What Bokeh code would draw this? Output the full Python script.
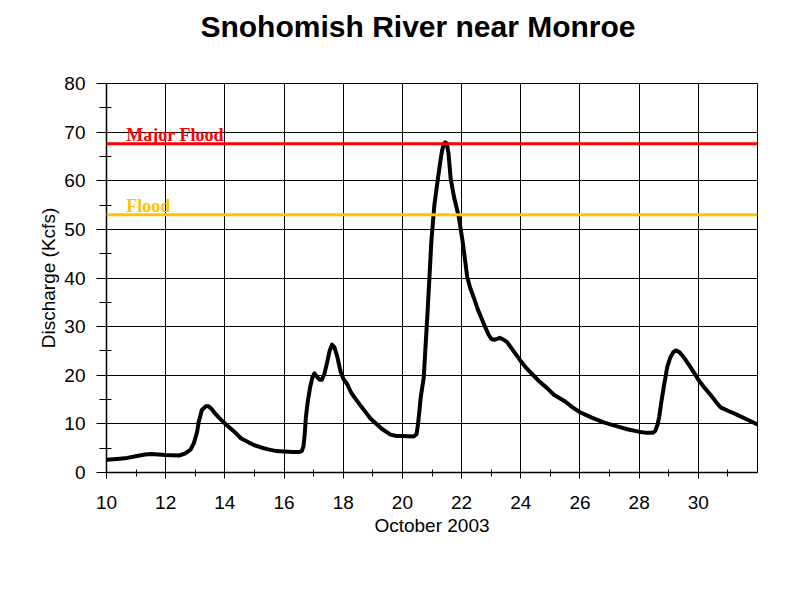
from bokeh.plotting import figure
from bokeh.models import Range1d, FixedTicker, Label, Span
from bokeh.embed import file_html
from bokeh.resources import INLINE

# Discharge (Kcfs), by fractional day of October 2003
days = [10.0, 10.35, 10.7, 11.03, 11.3, 11.5, 11.75, 12.0, 12.45, 12.65, 12.84, 12.95,
        13.06, 13.12, 13.22, 13.35, 13.45, 13.55, 13.63, 13.8, 14.0, 14.3, 14.55, 14.8,
        15.0, 15.25, 15.5, 15.75, 16.0, 16.3, 16.5, 16.6, 16.66, 16.7, 16.74, 16.8,
        16.88, 16.96, 17.03, 17.12, 17.2, 17.28, 17.36, 17.45, 17.54, 17.62, 17.7, 17.8,
        17.9, 18.0, 18.13, 18.27, 18.41, 18.58, 18.92, 19.3, 19.6, 19.8, 20.0, 20.38,
        20.48, 20.53, 20.58, 20.62, 20.72, 20.85, 20.98, 21.08, 21.19, 21.27, 21.34, 21.39,
        21.45, 21.5, 21.56, 21.63, 21.75, 21.9, 22.03, 22.1, 22.19, 22.3, 22.41, 22.55,
        22.75, 22.9, 23.0, 23.1, 23.2, 23.29, 23.4, 23.54, 23.75, 23.99, 24.2, 24.44,
        24.65, 24.9, 25.12, 25.5, 25.75, 26.0, 26.4, 26.8, 27.2, 27.6, 27.98, 28.2,
        28.47, 28.55, 28.62, 28.68, 28.75, 28.83, 28.95, 29.05, 29.15, 29.23, 29.35, 29.51,
        29.7, 29.85, 30.02, 30.2, 30.41, 30.6, 30.75, 31.0, 31.3, 31.65, 32.0]
flow = [2.6, 2.8, 3.0, 3.4, 3.7, 3.8, 3.7, 3.6, 3.5, 3.9, 4.7, 6.0,
        8.3, 10.5, 12.8, 13.6, 13.6, 13.1, 12.4, 11.3, 10.1, 8.5, 7.0, 6.2,
        5.6, 5.1, 4.7, 4.4, 4.3, 4.2, 4.2, 4.4, 5.5, 8.0, 11.5, 14.5,
        17.5, 19.6, 20.4, 19.6, 19.1, 19.1, 20.2, 22.5, 25.0, 26.3, 25.8, 23.8,
        21.0, 19.3, 18.2, 16.4, 15.2, 13.8, 11.1, 9.0, 7.8, 7.5, 7.5, 7.4,
        7.9, 10.1, 13.0, 15.5, 19.5, 33.0, 47.7, 55.0, 60.0, 63.5, 66.2, 67.3,
        67.9, 67.7, 65.5, 60.5, 56.5, 52.7, 47.7, 44.5, 40.2, 37.8, 36.0, 33.5,
        30.6, 28.5, 27.5, 27.3, 27.5, 27.7, 27.4, 26.8, 25.0, 23.0, 21.4, 19.9,
        18.6, 17.3, 16.0, 14.6, 13.4, 12.4, 11.3, 10.3, 9.6, 8.9, 8.4, 8.2,
        8.2, 8.6, 9.8, 11.5, 14.5, 17.5, 21.7, 23.6, 24.7, 25.1, 24.8, 23.7,
        22.0, 20.6, 18.9, 17.5, 16.0, 14.5, 13.4, 12.7, 11.9, 10.9, 9.9]

major_flood = 67.6
flood = 53.0

x_ticks = [10, 12, 14, 16, 18, 20, 22, 24, 26, 28, 30]
x_minor = [11, 13, 15, 17, 19, 21, 23, 25, 27, 29, 31]
y_ticks = [0, 10, 20, 30, 40, 50, 60, 70, 80]
y_minor = [5, 15, 25, 35, 45, 55, 65, 75]

title_text = "Snohomish River near Monroe"
x_label = "October 2003"
y_label = "Discharge (Kcfs)"

FONT = "Liberation Sans"

p = figure(width=800, height=600, output_backend="svg", toolbar_location=None,
           x_range=Range1d(10, 32), y_range=Range1d(0, 80),
           min_border_left=106, min_border_right=43, min_border_top=83,
           min_border_bottom=128)
p.background_fill_color = "white"
p.border_fill_color = "white"
p.outline_line_color = "black"
p.outline_line_width = 1
p.outline_line_alpha = 1

xt = FixedTicker(ticks=x_ticks, minor_ticks=x_minor)
yt = FixedTicker(ticks=y_ticks, minor_ticks=y_minor)
p.xaxis.ticker = xt
p.yaxis.ticker = yt
p.xgrid.ticker = xt
p.ygrid.ticker = yt
for g in (p.xgrid, p.ygrid):
    g.grid_line_color = "black"
    g.grid_line_width = 1
    g.grid_line_alpha = 1

for ax in (p.xaxis, p.yaxis):
    ax.axis_line_color = "black"
    ax.axis_line_width = 1.5
    ax.major_tick_line_color = "black"
    ax.minor_tick_line_color = "black"
    ax.major_tick_in = 0
    ax.major_label_text_font = FONT
    ax.major_label_text_font_size = "19px"
    ax.major_label_text_color = "black"
    ax.axis_label_text_font = FONT
    ax.axis_label_text_font_size = "19px"
    ax.axis_label_text_font_style = "normal"
    ax.axis_label_text_color = "black"

p.xaxis.major_tick_out = 6
p.xaxis.minor_tick_in = 3
p.xaxis.minor_tick_out = 4
p.xaxis.major_label_standoff = 17
p.xaxis.axis_label = x_label
p.xaxis.axis_label_standoff = 3

p.yaxis.major_tick_out = 10
p.yaxis.minor_tick_in = 5
p.yaxis.minor_tick_out = 7
p.yaxis.major_label_standoff = 11
p.yaxis.axis_label = y_label
p.yaxis.axis_label_standoff = 2

p.line(days, flow, line_color="black", line_width=4, line_join="round")

p.add_layout(Span(location=major_flood, dimension="width", line_color="#FF0000", line_width=3))
p.add_layout(Span(location=flood, dimension="width", line_color="#FFC400", line_width=3))

p.add_layout(Label(x=10.67, y=major_flood, y_offset=9, text="Major Flood",
                   text_font="Liberation Serif", text_font_style="bold",
                   text_font_size="18px", text_color="#FF0000",
                   text_baseline="alphabetic"))
p.add_layout(Label(x=10.67, y=flood, y_offset=9, text="Flood",
                   text_font="Liberation Serif", text_font_style="bold",
                   text_font_size="18px", text_color="#FFC400",
                   text_baseline="alphabetic"))

# chart title, drawn in the band above the plot area
p.add_layout(Label(x=311.5, y=57, x_units="screen", y_units="screen",
                   text=title_text, text_font=FONT, text_font_style="bold",
                   text_font_size="30px", text_color="black",
                   text_align="center", text_baseline="alphabetic"), "above")

open("out.html", "w").write(file_html(p, INLINE))
